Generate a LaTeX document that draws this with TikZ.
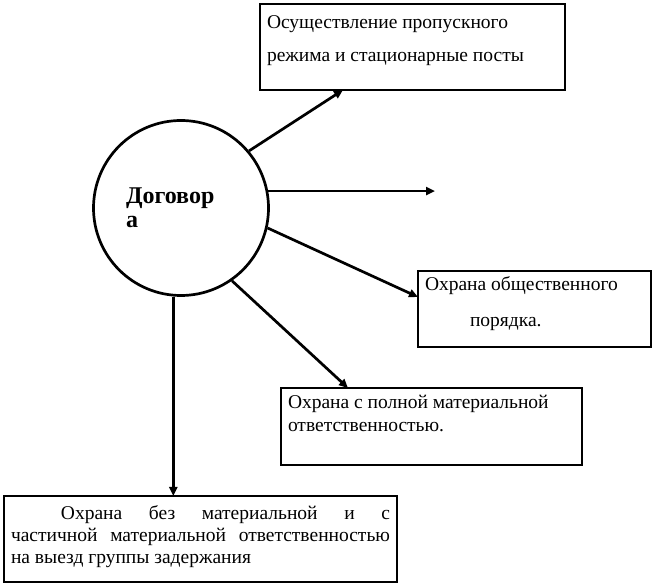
\documentclass[tikz,border=0pt]{standalone}
\usepackage{fontspec}
\setmainfont{Liberation Serif}
\usetikzlibrary{arrows.meta}

\newcommand{\boxtext}[5]{\parbox[c][#1][t]{#2}{\fontsize{19.5}{#4}\selectfont\rule{0pt}{#3}#5}}

\begin{document}
\begin{tikzpicture}[x=1pt,y=-1pt,
  box/.style={draw, line width=2.7pt, outer sep=0pt, inner xsep=7pt, inner ysep=0pt, anchor=north west},
  arr/.style={line width=2.7pt, -{Triangle[length=9pt,width=8pt]}}]
\useasboundingbox (0,0) rectangle (654,585);

\node[circle, draw, line width=2.7pt, minimum size=175pt, inner sep=0pt,
  text width=110pt, align=left, font=\bfseries\fontsize{24}{24}\selectfont]
  (contract) at (181,208) {Договор\\а};

\node[box] (posts) at (260,4)
  {\boxtext{86pt}{291pt}{25pt}{33pt}{\raggedright Осуществление пропускного\\режима и стационарные посты}};
\node[box] (order) at (418,271)
  {\boxtext{76pt}{219pt}{20pt}{36pt}{\raggedright Охрана общественного\\\hspace*{45pt}порядка.}};
\node[box] (liab) at (281,388)
  {\boxtext{77pt}{287pt}{21pt}{23pt}{\raggedright Охрана с полной материальной\\ответственностью.}};
\node[box] (capture) at (4,496)
  {\boxtext{86pt}{379pt}{23pt}{22pt}{\hspace*{50pt}Охрана без материальной и с\linebreak
   частичной материальной ответственностью\linebreak на выезд группы задержания}};

\coordinate (gap) at (435,190);

% connectors from the circle
\draw[arr] (contract.40) -- (343,0 |- posts.south);
\draw[arr] (contract.11.7) -- (contract.11.7 -| gap);
\draw[arr] (contract.-13.6) -- (order.west |- 0,297);
\draw[arr] (contract.-55.8) -- (348,0 |- liab.north);
\draw[arr] (contract.-95.7) -- (contract.-95.7 |- capture.north);

\end{tikzpicture}
\end{document}
